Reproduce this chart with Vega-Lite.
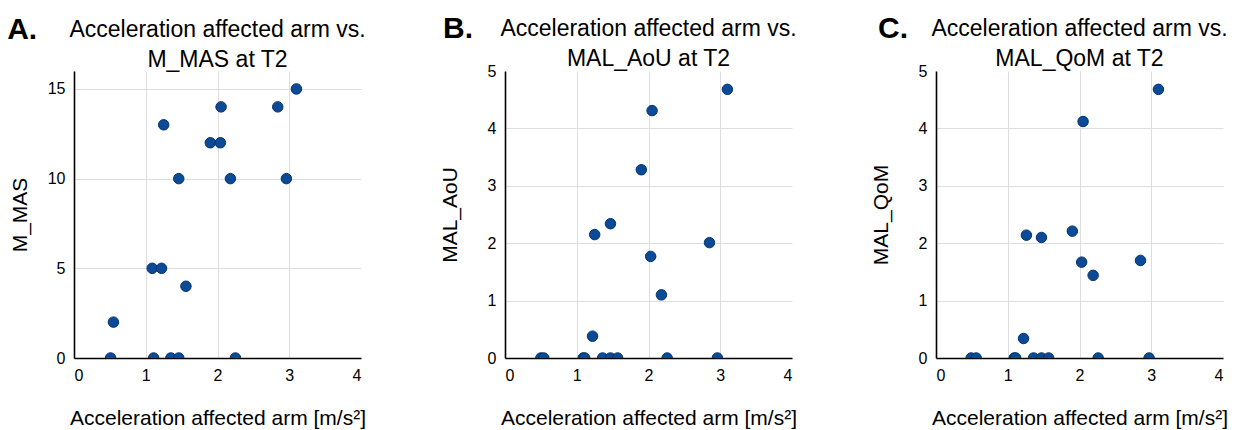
{
  "$schema": "https://vega.github.io/schema/vega-lite/v6.json",
  "background": "white",
  "padding": {"left": 7, "top": 14, "right": 5, "bottom": 5},
  "config": {
    "font": "Liberation Sans",
    "view": {"stroke": null},
    "axis": {
      "domainColor": "black",
      "domainWidth": 1.6,
      "ticks": false,
      "gridColor": "#dedede",
      "gridWidth": 1,
      "labelFont": "Liberation Sans",
      "labelFontSize": 16,
      "labelColor": "black",
      "labelPadding": 9,
      "titleFont": "Liberation Sans",
      "titleFontSize": 21,
      "titleFontWeight": "normal",
      "titleColor": "black"
    },
    "axisX": {"titlePadding": 24},
    "title": {
      "font": "Liberation Sans",
      "fontSize": 23,
      "fontWeight": "normal",
      "color": "black",
      "lineHeight": 30,
      "anchor": "middle"
    },
    "point": {"filled": true, "fill": "#0b4a96", "stroke": "#06316e", "strokeWidth": 1, "opacity": 1, "size": 110}
  },
  "datasets": {
    "mas": [
      {"acc": 0.51, "score": 0}, {"acc": 0.55, "score": 2}, {"acc": 1.09, "score": 5}, {"acc": 1.11, "score": 0},
      {"acc": 1.22, "score": 5}, {"acc": 1.25, "score": 13}, {"acc": 1.35, "score": 0}, {"acc": 1.46, "score": 0},
      {"acc": 1.46, "score": 10}, {"acc": 1.56, "score": 4}, {"acc": 1.90, "score": 12}, {"acc": 2.04, "score": 12},
      {"acc": 2.05, "score": 14}, {"acc": 2.18, "score": 10}, {"acc": 2.25, "score": 0}, {"acc": 2.84, "score": 14},
      {"acc": 2.96, "score": 10}, {"acc": 3.10, "score": 15}
    ],
    "aou": [
      {"acc": 0.50, "score": 0}, {"acc": 0.54, "score": 0}, {"acc": 1.09, "score": 0}, {"acc": 1.11, "score": 0},
      {"acc": 1.22, "score": 0.38}, {"acc": 1.25, "score": 2.15}, {"acc": 1.36, "score": 0}, {"acc": 1.47, "score": 0},
      {"acc": 1.47, "score": 2.34}, {"acc": 1.57, "score": 0}, {"acc": 1.90, "score": 3.28}, {"acc": 2.03, "score": 1.77},
      {"acc": 2.05, "score": 4.31}, {"acc": 2.18, "score": 1.10}, {"acc": 2.26, "score": 0}, {"acc": 2.85, "score": 2.01},
      {"acc": 2.96, "score": 0}, {"acc": 3.10, "score": 4.68}
    ],
    "qom": [
      {"acc": 0.49, "score": 0}, {"acc": 0.56, "score": 0}, {"acc": 1.09, "score": 0}, {"acc": 1.11, "score": 0},
      {"acc": 1.22, "score": 0.34}, {"acc": 1.26, "score": 2.14}, {"acc": 1.36, "score": 0}, {"acc": 1.47, "score": 0},
      {"acc": 1.47, "score": 2.10}, {"acc": 1.57, "score": 0}, {"acc": 1.90, "score": 2.21}, {"acc": 2.03, "score": 1.67},
      {"acc": 2.05, "score": 4.12}, {"acc": 2.19, "score": 1.44}, {"acc": 2.26, "score": 0}, {"acc": 2.85, "score": 1.70},
      {"acc": 2.97, "score": 0}, {"acc": 3.10, "score": 4.68}
    ]
  },
  "spacing": 73,
  "hconcat": [
    {
      "title": {"text": "A.", "anchor": "start", "frame": "bounds", "fontSize": 30, "fontWeight": "bold", "offset": -26, "dx": -2},
      "vconcat": [
        {
          "data": {"name": "mas"},
          "width": 287,
          "height": 287,
          "title": {"text": ["Acceleration affected arm vs.", "M_MAS at T2"], "offset": -1},
          "mark": {"type": "point", "clip": true},
          "encoding": {
            "x": {"field": "acc", "type": "quantitative", "scale": {"domain": [0, 4]},
                  "axis": {"values": [0, 1, 2, 3, 4], "title": "Acceleration affected arm [m/s²]",
                           "gridOpacity": {"condition": {"test": "datum.value == 4", "value": 0}, "value": 1}}},
            "y": {"field": "score", "type": "quantitative", "scale": {"domain": [0, 16]},
                  "axis": {"values": [0, 5, 10, 15], "title": "M_MAS", "titlePadding": 17}}
          }
        }
      ]
    },
    {
      "title": {"text": "B.", "anchor": "start", "frame": "bounds", "fontSize": 30, "fontWeight": "bold", "offset": -26, "dx": 4},
      "vconcat": [
        {
          "data": {"name": "aou"},
          "width": 287,
          "height": 287,
          "title": {"text": ["Acceleration affected arm vs.", "MAL_AoU at T2"], "offset": -8},
          "mark": {"type": "point", "clip": true},
          "encoding": {
            "x": {"field": "acc", "type": "quantitative", "scale": {"domain": [0, 4]},
                  "axis": {"values": [0, 1, 2, 3, 4], "title": "Acceleration affected arm [m/s²]",
                           "gridOpacity": {"condition": {"test": "datum.value == 4", "value": 0}, "value": 1}}},
            "y": {"field": "score", "type": "quantitative", "scale": {"domain": [0, 5]},
                  "axis": {"values": [0, 1, 2, 3, 4, 5], "title": "MAL_AoU", "titlePadding": 27,
                           "gridOpacity": {"condition": {"test": "datum.value == 5", "value": 0}, "value": 1}}}
          }
        }
      ]
    },
    {
      "title": {"text": "C.", "anchor": "start", "frame": "bounds", "fontSize": 30, "fontWeight": "bold", "offset": -26, "dx": 8},
      "vconcat": [
        {
          "data": {"name": "qom"},
          "width": 287,
          "height": 287,
          "title": {"text": ["Acceleration affected arm vs.", "MAL_QoM at T2"], "offset": -8},
          "mark": {"type": "point", "clip": true},
          "encoding": {
            "x": {"field": "acc", "type": "quantitative", "scale": {"domain": [0, 4]},
                  "axis": {"values": [0, 1, 2, 3, 4], "title": "Acceleration affected arm [m/s²]",
                           "gridOpacity": {"condition": {"test": "datum.value == 4", "value": 0}, "value": 1}}},
            "y": {"field": "score", "type": "quantitative", "scale": {"domain": [0, 5]},
                  "axis": {"values": [0, 1, 2, 3, 4, 5], "title": "MAL_QoM", "titlePadding": 27,
                           "gridOpacity": {"condition": {"test": "datum.value == 5", "value": 0}, "value": 1}}}
          }
        }
      ]
    }
  ]
}
